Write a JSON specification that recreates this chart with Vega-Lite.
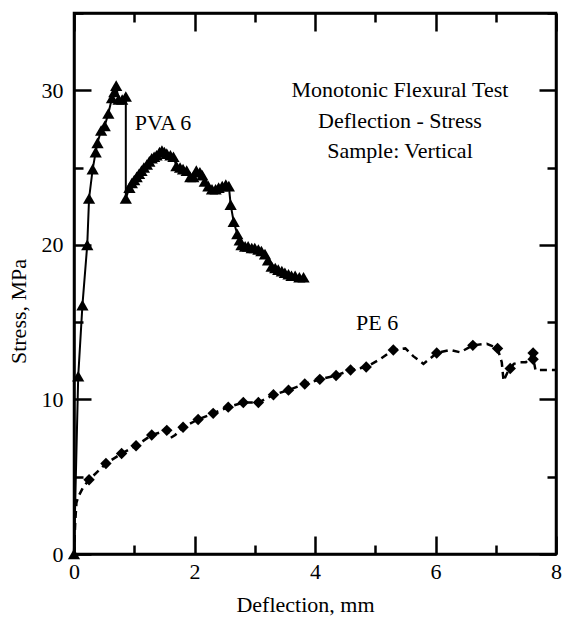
{
  "$schema": "https://vega.github.io/schema/vega-lite/v6.json",
  "width": 482,
  "height": 541,
  "autosize": {"type": "none"},
  "padding": {"left": 74, "top": 13, "right": 6, "bottom": 63},
  "background": "white",
  "config": {
    "font": "Times New Roman, Liberation Serif, serif",
    "view": {"stroke": "black", "strokeWidth": 2.5},
    "axis": {
      "domainColor": "black",
      "domainWidth": 2.5,
      "tickColor": "black",
      "tickWidth": 2.5,
      "labelFont": "Times New Roman, Liberation Serif, serif",
      "labelFontSize": 22,
      "labelColor": "black",
      "titleFont": "Times New Roman, Liberation Serif, serif",
      "titleFontSize": 22,
      "titleFontWeight": "normal",
      "titleColor": "black",
      "grid": false,
      "labelFlush": false,
      "labelOverlap": false,
      "labelBound": false
    }
  },
  "datasets": {
    "pva": [
      {"deflection": 0, "stress": 0},
      {"deflection": 0.07, "stress": 11.5},
      {"deflection": 0.14, "stress": 16.1},
      {"deflection": 0.22, "stress": 20.0},
      {"deflection": 0.25, "stress": 23.0},
      {"deflection": 0.31, "stress": 24.9},
      {"deflection": 0.36, "stress": 26.0},
      {"deflection": 0.39, "stress": 26.6},
      {"deflection": 0.45, "stress": 27.4},
      {"deflection": 0.51, "stress": 27.7},
      {"deflection": 0.57, "stress": 28.5},
      {"deflection": 0.63, "stress": 29.5},
      {"deflection": 0.67, "stress": 29.9},
      {"deflection": 0.70, "stress": 30.3},
      {"deflection": 0.74, "stress": 29.4},
      {"deflection": 0.80, "stress": 29.4},
      {"deflection": 0.86, "stress": 29.6},
      {"deflection": 0.86, "stress": 23.0},
      {"deflection": 0.92, "stress": 23.7},
      {"deflection": 0.96, "stress": 24.0},
      {"deflection": 1.00, "stress": 24.2},
      {"deflection": 1.04, "stress": 24.4},
      {"deflection": 1.08, "stress": 24.6},
      {"deflection": 1.12, "stress": 24.8},
      {"deflection": 1.16, "stress": 25.0},
      {"deflection": 1.21, "stress": 25.2},
      {"deflection": 1.25, "stress": 25.4},
      {"deflection": 1.29, "stress": 25.6},
      {"deflection": 1.33, "stress": 25.7},
      {"deflection": 1.37, "stress": 25.8},
      {"deflection": 1.42, "stress": 26.0},
      {"deflection": 1.46, "stress": 26.1},
      {"deflection": 1.50, "stress": 26.0},
      {"deflection": 1.54, "stress": 25.9},
      {"deflection": 1.60, "stress": 25.8},
      {"deflection": 1.65, "stress": 25.7},
      {"deflection": 1.70, "stress": 25.1},
      {"deflection": 1.76, "stress": 25.0},
      {"deflection": 1.81, "stress": 24.9},
      {"deflection": 1.87, "stress": 24.8},
      {"deflection": 1.93, "stress": 24.4},
      {"deflection": 1.98, "stress": 24.4},
      {"deflection": 2.03, "stress": 24.8},
      {"deflection": 2.09, "stress": 24.7},
      {"deflection": 2.13, "stress": 24.5},
      {"deflection": 2.17, "stress": 24.1},
      {"deflection": 2.23, "stress": 23.8},
      {"deflection": 2.29, "stress": 23.6},
      {"deflection": 2.35, "stress": 23.6},
      {"deflection": 2.40, "stress": 23.7},
      {"deflection": 2.46, "stress": 23.8},
      {"deflection": 2.52, "stress": 23.9},
      {"deflection": 2.57, "stress": 23.8},
      {"deflection": 2.60, "stress": 22.6},
      {"deflection": 2.65, "stress": 21.5},
      {"deflection": 2.71, "stress": 20.7},
      {"deflection": 2.75, "stress": 20.3},
      {"deflection": 2.78, "stress": 20.0},
      {"deflection": 2.84, "stress": 19.9},
      {"deflection": 2.89, "stress": 19.9},
      {"deflection": 2.95, "stress": 19.8},
      {"deflection": 3.00, "stress": 19.8},
      {"deflection": 3.06, "stress": 19.7},
      {"deflection": 3.11, "stress": 19.6},
      {"deflection": 3.17, "stress": 19.4},
      {"deflection": 3.22, "stress": 19.0},
      {"deflection": 3.28, "stress": 18.6},
      {"deflection": 3.34, "stress": 18.5},
      {"deflection": 3.39, "stress": 18.4},
      {"deflection": 3.45, "stress": 18.3},
      {"deflection": 3.50, "stress": 18.2},
      {"deflection": 3.56, "stress": 18.1},
      {"deflection": 3.61, "stress": 18.0},
      {"deflection": 3.67, "stress": 18.0},
      {"deflection": 3.74, "stress": 17.9},
      {"deflection": 3.81, "stress": 17.9}
    ],
    "pe_line": [
      {"deflection": 0, "stress": 0},
      {"deflection": 0.02, "stress": 2.0},
      {"deflection": 0.04, "stress": 3.3},
      {"deflection": 0.07, "stress": 3.7},
      {"deflection": 0.15, "stress": 4.3},
      {"deflection": 0.25, "stress": 4.8},
      {"deflection": 0.53, "stress": 5.85},
      {"deflection": 0.79, "stress": 6.5},
      {"deflection": 1.03, "stress": 7.0},
      {"deflection": 1.29, "stress": 7.7},
      {"deflection": 1.54, "stress": 8.0},
      {"deflection": 1.60, "stress": 7.5},
      {"deflection": 1.68, "stress": 7.7},
      {"deflection": 1.81, "stress": 8.2},
      {"deflection": 2.06, "stress": 8.7},
      {"deflection": 2.31, "stress": 9.1},
      {"deflection": 2.56, "stress": 9.5},
      {"deflection": 2.81, "stress": 9.8},
      {"deflection": 3.06, "stress": 9.8},
      {"deflection": 3.31, "stress": 10.3},
      {"deflection": 3.56, "stress": 10.6},
      {"deflection": 3.83, "stress": 11.0},
      {"deflection": 4.08, "stress": 11.3},
      {"deflection": 4.35, "stress": 11.55},
      {"deflection": 4.59, "stress": 11.9},
      {"deflection": 4.85, "stress": 12.1},
      {"deflection": 5.08, "stress": 12.6},
      {"deflection": 5.30, "stress": 13.2},
      {"deflection": 5.50, "stress": 13.3},
      {"deflection": 5.63, "stress": 12.8},
      {"deflection": 5.80, "stress": 12.3},
      {"deflection": 6.02, "stress": 13.0},
      {"deflection": 6.24, "stress": 13.2},
      {"deflection": 6.41, "stress": 13.05},
      {"deflection": 6.62, "stress": 13.5},
      {"deflection": 6.85, "stress": 13.6},
      {"deflection": 7.03, "stress": 13.3},
      {"deflection": 7.10, "stress": 12.4},
      {"deflection": 7.13, "stress": 11.2},
      {"deflection": 7.20, "stress": 11.8},
      {"deflection": 7.30, "stress": 12.3},
      {"deflection": 7.40, "stress": 12.4},
      {"deflection": 7.50, "stress": 12.4},
      {"deflection": 7.62, "stress": 12.9},
      {"deflection": 7.64, "stress": 12.3},
      {"deflection": 7.66, "stress": 11.9},
      {"deflection": 8.0, "stress": 11.9}
    ],
    "pe_markers": [
      {"deflection": 0.25, "stress": 4.8},
      {"deflection": 0.53, "stress": 5.85},
      {"deflection": 0.79, "stress": 6.5},
      {"deflection": 1.03, "stress": 7.0},
      {"deflection": 1.29, "stress": 7.7},
      {"deflection": 1.54, "stress": 8.0},
      {"deflection": 1.81, "stress": 8.2},
      {"deflection": 2.06, "stress": 8.7},
      {"deflection": 2.31, "stress": 9.1},
      {"deflection": 2.56, "stress": 9.5},
      {"deflection": 2.81, "stress": 9.8},
      {"deflection": 3.06, "stress": 9.8},
      {"deflection": 3.31, "stress": 10.3},
      {"deflection": 3.56, "stress": 10.6},
      {"deflection": 3.83, "stress": 11.0},
      {"deflection": 4.08, "stress": 11.3},
      {"deflection": 4.35, "stress": 11.55},
      {"deflection": 4.59, "stress": 11.9},
      {"deflection": 4.85, "stress": 12.1},
      {"deflection": 5.30, "stress": 13.2},
      {"deflection": 6.02, "stress": 13.0},
      {"deflection": 6.62, "stress": 13.5},
      {"deflection": 7.03, "stress": 13.3},
      {"deflection": 7.24, "stress": 12.0},
      {"deflection": 7.62, "stress": 13.0},
      {"deflection": 7.62, "stress": 12.6}
    ],
    "curve_labels": [
      {"deflection": 1.01, "stress": 27.46, "label": "PVA 6"},
      {"deflection": 4.68, "stress": 14.52, "label": "PE 6"}
    ],
    "notes": [
      {"deflection": 5.41, "stress": 29.55, "label": "Monotonic Flexural Test"},
      {"deflection": 5.41, "stress": 27.57, "label": "Deflection - Stress"},
      {"deflection": 5.41, "stress": 25.63, "label": "Sample: Vertical"}
    ]
  },
  "layer": [
    {
      "data": {"name": "pva"},
      "mark": {"type": "line", "color": "black", "strokeWidth": 2},
      "encoding": {
        "x": {
          "field": "deflection", "type": "quantitative",
          "scale": {"domain": [0, 8], "nice": false},
          "axis": {
            "orient": "bottom",
            "title": "Deflection, mm",
            "values": [0, 1, 2, 3, 4, 5, 6, 7, 8],
            "labelExpr": "datum.value % 2 == 0 ? datum.label : ''",
            "tickSize": {"condition": {"test": "datum.value % 2 == 0", "value": -18}, "value": -9},
            "labelPadding": 25,
            "titleX": 231,
            "titleY": 57,
            "titleBaseline": "alphabetic",
            "titleAlign": "center"
          }
        },
        "y": {
          "field": "stress", "type": "quantitative",
          "scale": {"domain": [0, 35], "nice": false},
          "axis": {
            "orient": "left",
            "title": "Stress, MPa",
            "values": [0, 5, 10, 15, 20, 25, 30, 35],
            "labelExpr": "datum.value % 10 == 0 ? datum.label : ''",
            "tickSize": {"condition": {"test": "datum.value % 10 == 0", "value": -17}, "value": -9},
            "labelPadding": 28,
            "titleX": -49,
            "titleY": 298,
            "titleAngle": -90,
            "titleBaseline": "alphabetic",
            "titleAlign": "center"
          }
        }
      }
    },
    {
      "data": {"name": "pva"},
      "mark": {"type": "point", "shape": "triangle-up", "filled": true, "color": "black", "opacity": 1, "size": 150},
      "encoding": {
        "x": {
          "field": "deflection", "type": "quantitative",
          "axis": {
            "orient": "top",
            "title": null,
            "labels": false,
            "values": [0, 1, 2, 3, 4, 5, 6, 7, 8],
            "tickSize": {"condition": {"test": "datum.value % 2 == 0", "value": -18}, "value": -9}
          }
        },
        "y": {
          "field": "stress", "type": "quantitative",
          "axis": {
            "orient": "right",
            "title": null,
            "labels": false,
            "values": [0, 5, 10, 15, 20, 25, 30, 35],
            "tickSize": {"condition": {"test": "datum.value % 10 == 0", "value": -17}, "value": -9}
          }
        }
      }
    },
    {
      "data": {"name": "pe_line"},
      "mark": {"type": "line", "color": "black", "strokeWidth": 2.5, "strokeDash": [7, 5]},
      "encoding": {
        "x": {"field": "deflection", "type": "quantitative", "axis": null},
        "y": {"field": "stress", "type": "quantitative", "axis": null}
      }
    },
    {
      "data": {"name": "pe_markers"},
      "mark": {"type": "point", "shape": "diamond", "filled": true, "color": "black", "opacity": 1, "size": 130},
      "encoding": {
        "x": {"field": "deflection", "type": "quantitative", "axis": null},
        "y": {"field": "stress", "type": "quantitative", "axis": null}
      }
    },
    {
      "data": {"name": "curve_labels"},
      "mark": {"type": "text", "align": "left", "baseline": "alphabetic", "font": "Times New Roman, Liberation Serif, serif", "fontSize": 22, "color": "black"},
      "encoding": {
        "x": {"field": "deflection", "type": "quantitative", "axis": null},
        "y": {"field": "stress", "type": "quantitative", "axis": null},
        "text": {"field": "label"}
      }
    },
    {
      "data": {"name": "notes"},
      "mark": {"type": "text", "align": "center", "baseline": "alphabetic", "font": "Times New Roman, Liberation Serif, serif", "fontSize": 22, "color": "black"},
      "encoding": {
        "x": {"field": "deflection", "type": "quantitative", "axis": null},
        "y": {"field": "stress", "type": "quantitative", "axis": null},
        "text": {"field": "label"}
      }
    }
  ],
  "resolve": {"axis": {"x": "independent", "y": "independent"}}
}
